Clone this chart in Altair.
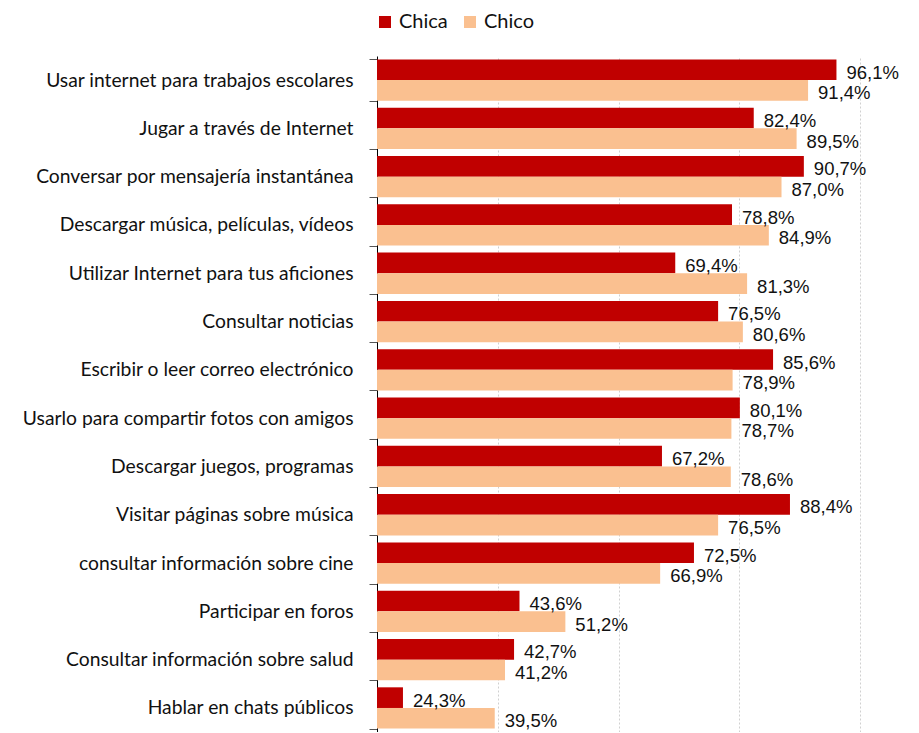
import altair as alt
import pandas as pd

categories = [
    "Usar internet para trabajos escolares",
    "Jugar a través de Internet",
    "Conversar por mensajería instantánea",
    "Descargar música, películas, vídeos",
    "Utilizar Internet para tus aficiones",
    "Consultar noticias",
    "Escribir o leer correo electrónico",
    "Usarlo para compartir fotos con amigos",
    "Descargar juegos, programas",
    "Visitar páginas sobre música",
    "consultar información sobre cine",
    "Participar en foros",
    "Consultar información sobre salud",
    "Hablar en chats públicos",
]
chica = [96.1, 82.4, 90.7, 78.8, 69.4, 76.5, 85.6, 80.1, 67.2, 88.4, 72.5, 43.6, 42.7, 24.3]
chico = [91.4, 89.5, 87.0, 84.9, 81.3, 80.6, 78.9, 78.7, 78.6, 76.5, 66.9, 51.2, 41.2, 39.5]
series = ["Chica", "Chico"]
colors = ["#C00000", "#FAC090"]

rows = []
for c, a, b in zip(categories, chica, chico):
    rows.append({"cat": c, "serie": "Chica", "v": a})
    rows.append({"cat": c, "serie": "Chico", "v": b})
df = pd.DataFrame(rows)
df["lbl"] = df["v"].map(lambda v: f"{v:.1f}".replace(".", ",") + "%")

FONT = "Lato"
VFONT = "Liberation Sans"

y = alt.Y("cat:N", sort=categories, title=None,
          scale=alt.Scale(paddingInner=0.145, paddingOuter=0.07),
          axis=alt.Axis(tickBand="extent", tickSize=8, tickColor="#555555",
                        domainColor="#000000", labelFontSize=19.3, labelFont=FONT,
                        labelColor="#111111", labelPadding=16, labelLimit=400))
x = alt.X("v:Q", title=None,
          scale=alt.Scale(domain=[20, 100], zero=False, nice=False),
          axis=alt.Axis(values=[40, 60, 80, 100], labels=False, ticks=False, domain=False,
                        grid=True, gridColor="#d0d0d0", gridDash=[2, 2], gridWidth=1))
yoff = alt.YOffset("serie:N", sort=series, scale=alt.Scale(domain=series))

bars = alt.Chart(df).mark_bar().encode(
    y=y, x=x, x2=alt.datum(20), yOffset=yoff,
    color=alt.Color("serie:N", scale=alt.Scale(domain=series, range=colors),
                    legend=alt.Legend(title=None, orient="none", direction="horizontal",
                                      legendX=-2, legendY=-44, symbolType="square",
                                      symbolSize=144, symbolStrokeWidth=0,
                                      labelFontSize=20, labelFont=FONT, labelColor="#111111",
                                      columnPadding=12, labelOffset=4)),
)

text = alt.Chart(df).mark_text(align="left", baseline="middle", dx=10, dy=3,
                               fontSize=18.5, font=VFONT, color="#111111").encode(
    y=alt.Y("cat:N", sort=categories), x="v:Q", yOffset=yoff, text="lbl:N",
)

chart = (bars + text).properties(
    width=483, height=676,
    autosize=alt.AutoSizeParams(type="none"),
    padding={"left": 369, "top": 48, "right": 50, "bottom": 0},
).configure_view(stroke=None)

chart.save("out.html", embed_options={"renderer": "svg", "actions": False})
